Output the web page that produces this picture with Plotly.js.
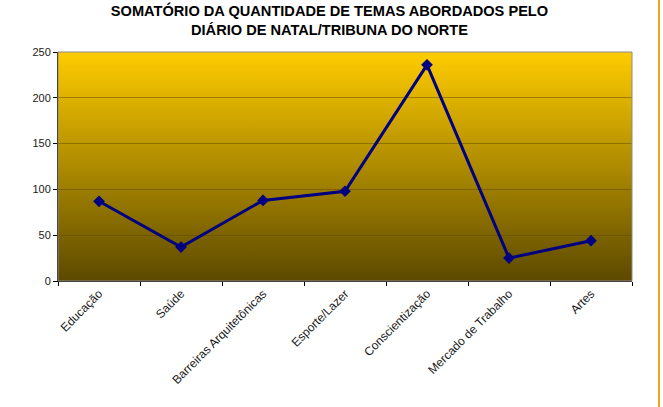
<!DOCTYPE html>
<html lang="pt">
<head>
  <meta charset="UTF-8">
  <title>Somatório de temas</title>
  <script src="https://cdn.plot.ly/plotly-3.0.1.min.js"></script>
  <style>
    body { margin: 0; background: #fff; }
    #plot { width: 663px; height: 407px; }
    #edge { position: absolute; left: 658px; top: 0; width: 2px; height: 407px; background: #f5a31a; }
  </style>
</head>
<body>
  <div id="plot"></div>
  <div id="edge"></div>

  <script>
    // categorias e valores
    const temas = ['Educação', 'Saúde', 'Barreiras Arquitetônicas', 'Esporte/Lazer',
                   'Conscientização', 'Mercado de Trabalho', 'Artes'];
    const quantidades = [87, 37, 88, 98, 236, 25, 44];
    const yTicks = [0, 50, 100, 150, 200, 250];

    // fundo em degradê da área de plotagem
    const grad = '<svg xmlns="http://www.w3.org/2000/svg" width="100" height="100" preserveAspectRatio="none">' +
      '<defs><linearGradient id="g" x1="0" y1="0" x2="0" y2="1">' +
      '<stop offset="0" stop-color="#ffcc00"/><stop offset="1" stop-color="#5c4900"/>' +
      '</linearGradient></defs><rect width="100" height="100" fill="url(#g)"/></svg>';

    const trace = {
      x: temas,
      y: quantidades,
      type: 'scatter',
      mode: 'lines+markers',
      line: { color: '#000080', width: 3 },
      marker: { symbol: 'diamond', size: 9, color: '#000080' },
      hoverinfo: 'x+y'
    };

    const layout = {
      width: 663,
      height: 407,
      margin: { l: 58, r: 31, t: 52, b: 126 },
      paper_bgcolor: '#ffffff',
      plot_bgcolor: 'rgba(0,0,0,0)',
      font: { family: 'Liberation Sans, Arial, sans-serif', size: 12, color: '#1a1a1a' },
      title: {
        text: 'SOMATÓRIO DA QUANTIDADE DE TEMAS ABORDADOS PELO<br>DIÁRIO DE NATAL/TRIBUNA DO NORTE',
        font: { family: 'Liberation Sans, Arial, sans-serif', size: 14.6, color: '#000', weight: 'bold' },
        x: 0.497, xanchor: 'center', y: 0.96, yanchor: 'top'
      },
      xaxis: {
        type: 'category',
        tickangle: -45,
        tickson: 'boundaries',
        ticks: 'outside',
        ticklen: 4,
        tickcolor: '#000',
        showline: true,
        linecolor: '#000',
        linewidth: 1,
        showgrid: false,
        range: [-0.5, temas.length - 0.5]
      },
      yaxis: {
        range: [0, 250],
        tickvals: yTicks,
        ticks: 'outside',
        ticklen: 4,
        tickcolor: '#000',
        tickfont: { size: 11 },
        showline: true,
        linecolor: '#000',
        linewidth: 1,
        showgrid: true,
        gridcolor: 'rgba(95,72,0,0.5)',
        gridwidth: 1,
        zeroline: false
      },
      images: [{
        source: 'data:image/svg+xml;charset=utf-8,' + encodeURIComponent(grad),
        xref: 'paper', yref: 'paper',
        x: 0, y: 1, sizex: 1, sizey: 1,
        xanchor: 'left', yanchor: 'top',
        sizing: 'stretch',
        layer: 'below'
      }],
      shapes: [{
        type: 'rect', xref: 'paper', yref: 'paper',
        x0: 0, x1: 1, y0: 0, y1: 1,
        line: { color: '#8a8a8a', width: 1 }
      }],
      showlegend: false
    };

    Plotly.newPlot('plot', [trace], layout, { displayModeBar: false, staticPlot: true });
  </script>
</body>
</html>
